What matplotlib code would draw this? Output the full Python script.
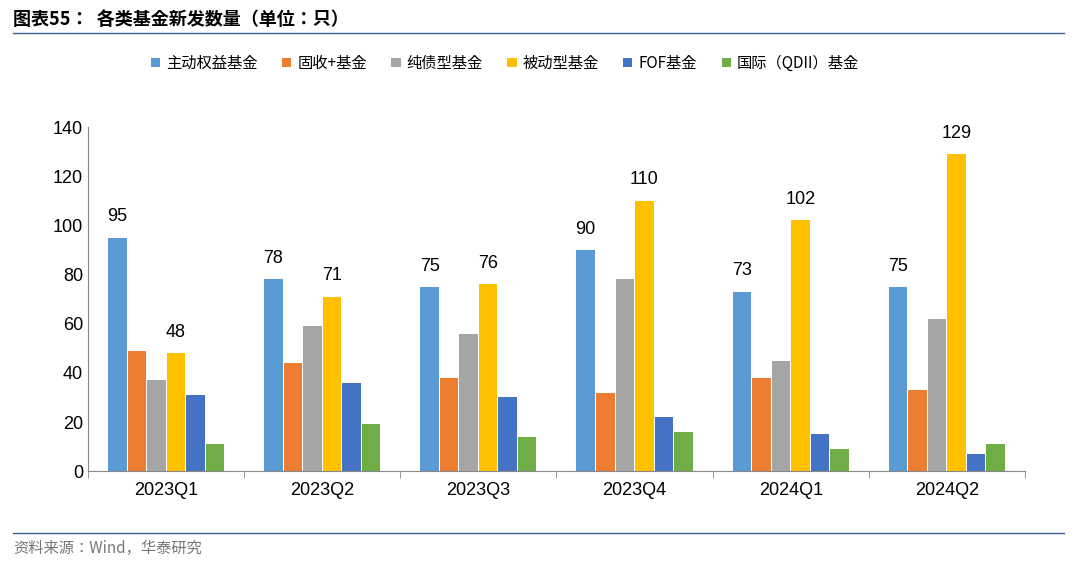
import matplotlib.pyplot as plt
import numpy as np

plt.rcParams["font.family"] = ["Noto Sans CJK JP", "Noto Sans CJK SC", "Noto Sans CJK TC",
                               "Noto Sans CJK KR", "DejaVu Sans"]

quarters = ["2023Q1", "2023Q2", "2023Q3", "2023Q4", "2024Q1", "2024Q2"]
series_names = ["主动权益基金", "固收+基金", "纯债型基金", "被动型基金", "FOF基金", "国际（QDII）基金"]
active_equity = [95, 78, 75, 90, 73, 75]
fixed_plus = [49, 44, 38, 32, 38, 33]
pure_bond = [37, 59, 56, 78, 45, 62]
passive = [48, 71, 76, 110, 102, 129]
fof = [31, 36, 30, 22, 15, 7]
qdii = [11, 19, 14, 16, 9, 11]

colors = ["#5B9BD5", "#ED7D31", "#A5A5A5", "#FFC000", "#4472C4", "#70AD47"]
data = [active_equity, fixed_plus, pure_bond, passive, fof, qdii]
labelled = [0, 3]

fig = plt.figure(figsize=(10.8, 5.67), dpi=100)
ax = fig.add_axes([0.0815, 0.169, 0.8675, 0.607])

x = np.arange(len(quarters))
w = 0.125
for i, (vals, c, name) in enumerate(zip(data, colors, series_names)):
    pos = x + (i - 2.5) * w
    bars = ax.bar(pos, vals, w * 0.95, color=c, label=name)
    if i in labelled:
        for b, v in zip(bars, vals):
            ax.text(b.get_x() + b.get_width() / 2, v + 5, str(v),
                    ha="center", va="bottom", fontsize=13, family="Liberation Sans")

ax.set_xlim(-0.5, len(quarters) - 0.5)
ax.set_ylim(0, 140)
ax.set_yticks(range(0, 141, 20))
ax.set_xticks(x)
ax.set_xticklabels(quarters, family="Liberation Sans", fontsize=13)
ax.set_xticks(np.arange(-0.5, len(quarters), 1), minor=True)
ax.tick_params(axis="x", which="major", length=0, pad=8)
ax.tick_params(axis="x", which="minor", length=5, color="#888888")
ax.tick_params(axis="y", labelsize=13, length=0)
for lab in ax.get_yticklabels():
    lab.set_family("Liberation Sans")
for s in ["top", "right"]:
    ax.spines[s].set_visible(False)
ax.spines["left"].set_color("#888888")
ax.spines["bottom"].set_color("#888888")

ax.legend(loc="lower center", bbox_to_anchor=(0.445, 1.12), ncol=6, frameon=False,
          fontsize=11, handlelength=0.6, handleheight=0.6, columnspacing=1.6,
          handletextpad=0.4)

fig.text(0.012, 0.965, "图表55：  各类基金新发数量（单位：只）", fontsize=13,
         fontweight="bold", va="center")
fig.add_artist(plt.Line2D([0.012, 0.985], [0.942, 0.942], color="#3A5F8F", lw=1))
fig.add_artist(plt.Line2D([0.012, 0.985], [0.06, 0.06], color="#3A5F8F", lw=1))
fig.text(0.012, 0.032, "资料来源：Wind，华泰研究", fontsize=11, color="#777777", va="center")

fig.savefig("out.png", dpi=100)
